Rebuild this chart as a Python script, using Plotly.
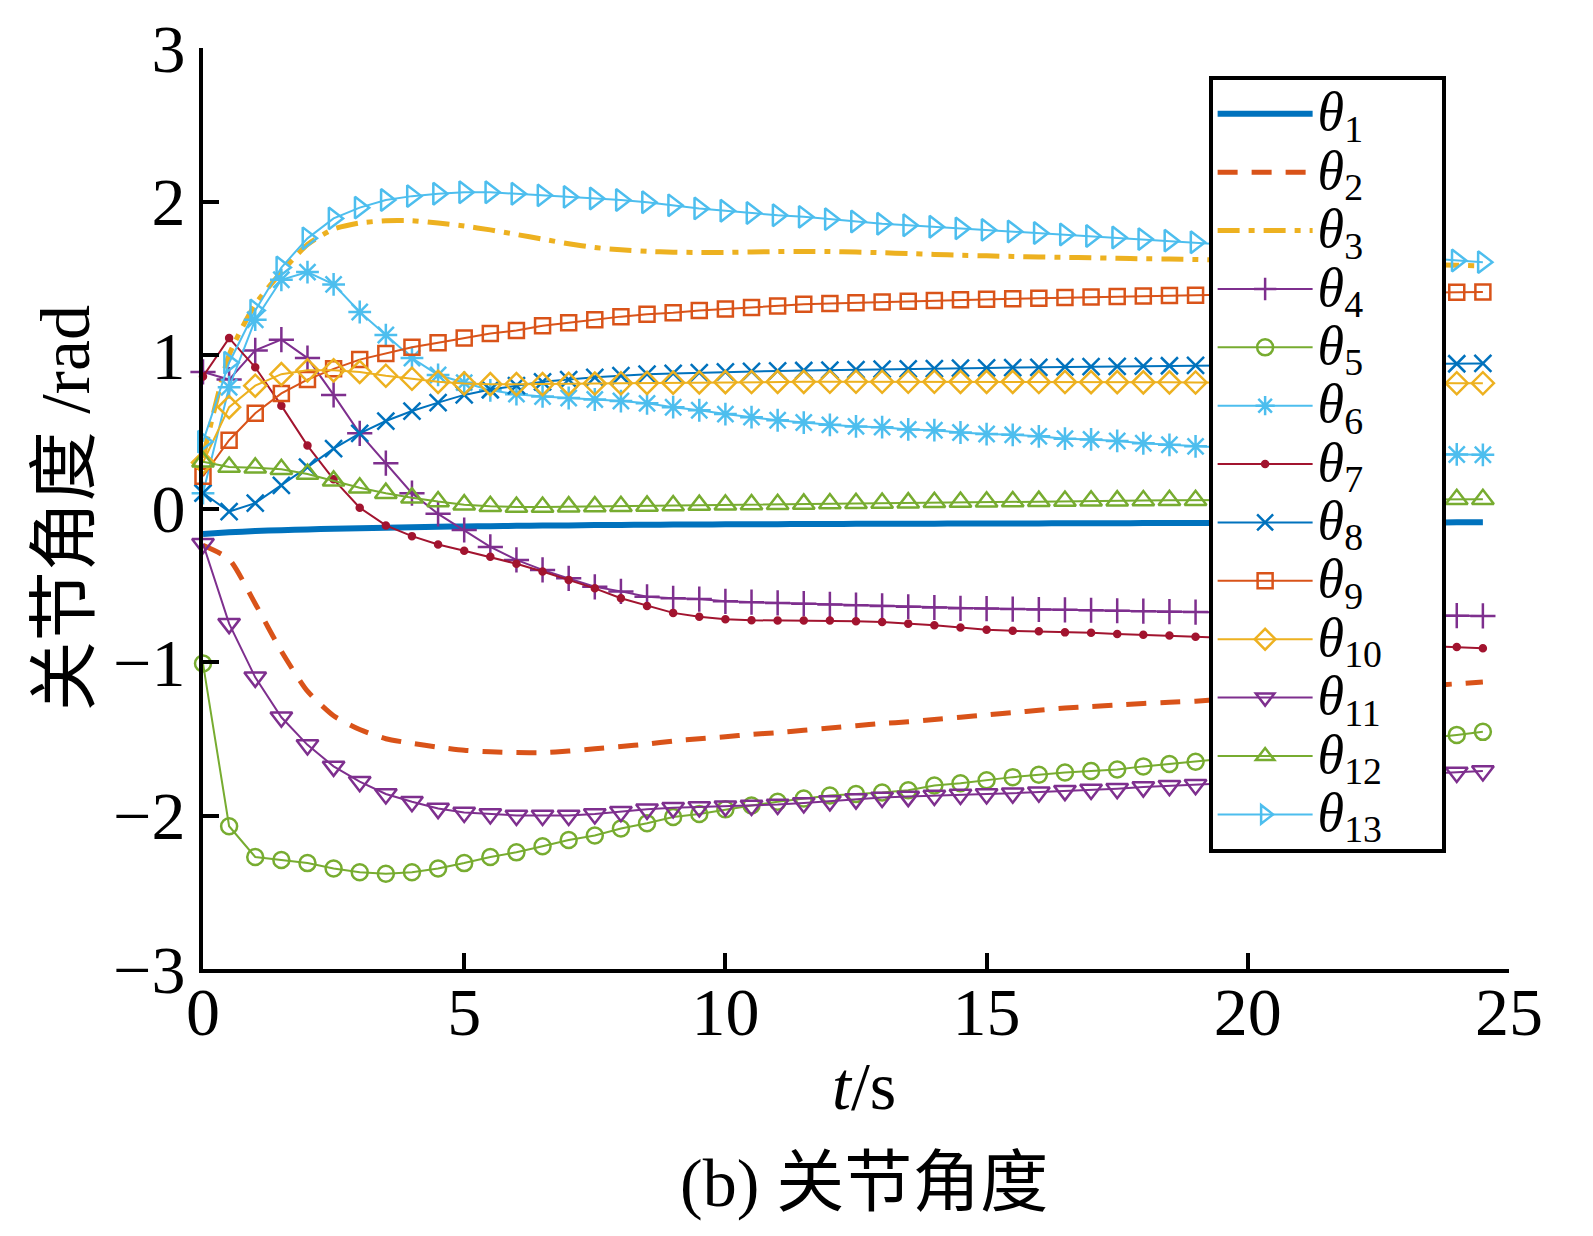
import plotly.graph_objects as go

# time grid (s), one sample every 0.5 s
t = [0, 0.5, 1, 1.5, 2, 2.5, 3, 3.5, 4, 4.5,
     5, 5.5, 6, 6.5, 7, 7.5, 8, 8.5, 9, 9.5,
     10, 10.5, 11, 11.5, 12, 12.5, 13, 13.5, 14, 14.5,
     15, 15.5, 16, 16.5, 17, 17.5, 18, 18.5, 19, 19.5,
     20, 20.5, 21, 21.5, 22, 22.5, 23, 23.5, 24, 24.5]

# joint angles (rad)
theta1 = [-0.166, -0.155, -0.147, -0.141, -0.136, -0.132, -0.128, -0.125, -0.122, -0.119,
          -0.117, -0.115, -0.113, -0.111, -0.110, -0.108, -0.107, -0.106, -0.105, -0.104,
          -0.103, -0.102, -0.102, -0.101, -0.101, -0.100, -0.100, -0.099, -0.099, -0.098,
          -0.098, -0.097, -0.097, -0.096, -0.096, -0.096, -0.095, -0.095, -0.094, -0.094,
          -0.094, -0.093, -0.093, -0.093, -0.092, -0.092, -0.091, -0.091, -0.090, -0.090]
theta2 = [-0.24, -0.33, -0.62, -0.93, -1.19, -1.35, -1.44, -1.50, -1.53, -1.555,
          -1.575, -1.585, -1.59, -1.59, -1.58, -1.565, -1.55, -1.535, -1.515, -1.50,
          -1.487, -1.472, -1.46, -1.445, -1.43, -1.415, -1.40, -1.39, -1.375, -1.36,
          -1.345, -1.33, -1.315, -1.30, -1.29, -1.28, -1.27, -1.262, -1.255, -1.243,
          -1.232, -1.22, -1.21, -1.198, -1.188, -1.176, -1.165, -1.153, -1.142, -1.13]
theta3 = [0.33, 1.00, 1.33, 1.54, 1.72, 1.82, 1.86, 1.875, 1.875, 1.86,
          1.84, 1.815, 1.785, 1.755, 1.725, 1.70, 1.685, 1.675, 1.67, 1.668,
          1.668, 1.671, 1.674, 1.675, 1.674, 1.671, 1.666, 1.661, 1.655, 1.65,
          1.646, 1.642, 1.639, 1.636, 1.633, 1.630, 1.627, 1.625, 1.622, 1.618,
          1.614, 1.611, 1.607, 1.603, 1.600, 1.596, 1.592, 1.589, 1.585, 1.58]
theta4 = [0.89, 0.84, 1.03, 1.10, 0.98, 0.74, 0.49, 0.295, 0.10, -0.035,
          -0.14, -0.25, -0.335, -0.40, -0.455, -0.51, -0.54, -0.575, -0.585, -0.59,
          -0.605, -0.61, -0.615, -0.62, -0.625, -0.63, -0.635, -0.64, -0.645, -0.65,
          -0.652, -0.655, -0.658, -0.66, -0.663, -0.666, -0.669, -0.672, -0.675, -0.678,
          -0.68, -0.683, -0.685, -0.688, -0.69, -0.692, -0.694, -0.696, -0.698, -0.70]
theta5 = [-1.01, -2.07, -2.27, -2.29, -2.31, -2.345, -2.37, -2.38, -2.37, -2.345,
          -2.31, -2.27, -2.24, -2.20, -2.16, -2.13, -2.085, -2.05, -2.01, -1.99,
          -1.96, -1.935, -1.91, -1.89, -1.87, -1.86, -1.85, -1.835, -1.805, -1.79,
          -1.77, -1.75, -1.735, -1.72, -1.71, -1.70, -1.68, -1.665, -1.65, -1.632,
          -1.615, -1.598, -1.58, -1.563, -1.545, -1.528, -1.51, -1.492, -1.475, -1.455]
theta6 = [0.10, 0.79, 1.23, 1.49, 1.54, 1.46, 1.28, 1.13, 0.98, 0.87,
          0.82, 0.77, 0.745, 0.73, 0.72, 0.71, 0.70, 0.685, 0.66, 0.64,
          0.615, 0.595, 0.575, 0.56, 0.545, 0.535, 0.53, 0.515, 0.51, 0.495,
          0.485, 0.48, 0.47, 0.455, 0.45, 0.44, 0.425, 0.415, 0.405, 0.397,
          0.39, 0.382, 0.375, 0.37, 0.365, 0.36, 0.357, 0.354, 0.352, 0.35]
theta7 = [0.86, 1.11, 0.92, 0.67, 0.41, 0.19, 0.005, -0.11, -0.18, -0.235,
          -0.275, -0.315, -0.36, -0.41, -0.465, -0.52, -0.585, -0.635, -0.68, -0.705,
          -0.722, -0.728, -0.73, -0.73, -0.73, -0.735, -0.74, -0.75, -0.76, -0.775,
          -0.79, -0.797, -0.80, -0.807, -0.81, -0.817, -0.822, -0.828, -0.835, -0.842,
          -0.849, -0.856, -0.862, -0.868, -0.875, -0.881, -0.888, -0.895, -0.902, -0.91]
theta8 = [0.10, -0.02, 0.035, 0.15, 0.27, 0.39, 0.49, 0.57, 0.635, 0.69,
          0.74, 0.775, 0.80, 0.825, 0.84, 0.855, 0.865, 0.875, 0.88, 0.885,
          0.89, 0.893, 0.896, 0.899, 0.902, 0.905, 0.908, 0.91, 0.912, 0.914,
          0.916, 0.918, 0.92, 0.922, 0.924, 0.926, 0.928, 0.93, 0.932, 0.934,
          0.935, 0.936, 0.937, 0.938, 0.939, 0.94, 0.941, 0.942, 0.943, 0.945]
theta9 = [0.21, 0.445, 0.62, 0.75, 0.84, 0.91, 0.97, 1.01, 1.05, 1.08,
          1.11, 1.14, 1.16, 1.19, 1.21, 1.23, 1.25, 1.265, 1.275, 1.29,
          1.30, 1.31, 1.32, 1.33, 1.335, 1.34, 1.345, 1.35, 1.355, 1.36,
          1.363, 1.366, 1.37, 1.374, 1.378, 1.381, 1.384, 1.387, 1.39, 1.392,
          1.394, 1.396, 1.398, 1.40, 1.402, 1.404, 1.406, 1.407, 1.409, 1.41]
theta10 = [0.30, 0.66, 0.80, 0.875, 0.90, 0.90, 0.89, 0.865, 0.845, 0.825,
           0.815, 0.81, 0.81, 0.81, 0.812, 0.814, 0.816, 0.818, 0.82, 0.822,
           0.823, 0.824, 0.825, 0.825, 0.826, 0.826, 0.826, 0.826, 0.826, 0.825,
           0.825, 0.825, 0.824, 0.824, 0.823, 0.823, 0.822, 0.822, 0.821, 0.821,
           0.82, 0.82, 0.819, 0.819, 0.818, 0.818, 0.817, 0.817, 0.816, 0.816]
theta11 = [-0.23, -0.75, -1.10, -1.36, -1.54, -1.68, -1.78, -1.86, -1.91, -1.955,
           -1.98, -1.99, -2.00, -2.00, -2.00, -1.99, -1.975, -1.96, -1.95, -1.945,
           -1.94, -1.935, -1.928, -1.918, -1.905, -1.893, -1.882, -1.877, -1.87, -1.863,
           -1.86, -1.855, -1.848, -1.838, -1.83, -1.826, -1.815, -1.806, -1.80, -1.792,
           -1.784, -1.776, -1.768, -1.76, -1.752, -1.744, -1.736, -1.728, -1.72, -1.71]
theta12 = [0.305, 0.27, 0.265, 0.255, 0.225, 0.18, 0.135, 0.10, 0.07, 0.045,
           0.025, 0.015, 0.01, 0.01, 0.012, 0.013, 0.015, 0.017, 0.02, 0.022,
           0.024, 0.026, 0.028, 0.03, 0.032, 0.034, 0.036, 0.038, 0.04, 0.042,
           0.044, 0.046, 0.048, 0.049, 0.05, 0.051, 0.052, 0.053, 0.054, 0.055,
           0.056, 0.056, 0.057, 0.057, 0.058, 0.058, 0.059, 0.059, 0.06, 0.06]
theta13 = [0.435, 0.95, 1.29, 1.57, 1.76, 1.89, 1.96, 2.01, 2.035, 2.05,
           2.06, 2.06, 2.05, 2.04, 2.03, 2.02, 2.01, 1.995, 1.975, 1.955,
           1.94, 1.925, 1.91, 1.9, 1.885, 1.87, 1.855, 1.845, 1.835, 1.825,
           1.815, 1.805, 1.795, 1.785, 1.775, 1.765, 1.755, 1.745, 1.735, 1.724,
           1.712, 1.70, 1.688, 1.676, 1.664, 1.652, 1.64, 1.628, 1.616, 1.605]

series = [theta1, theta2, theta3, theta4, theta5, theta6, theta7,
          theta8, theta9, theta10, theta11, theta12, theta13]
# bigger glyphs than the legend font so the rows stay tight, like the original
names = ['<span style="font-size:54px"><i>θ</i><sub>%d</sub>&nbsp;&nbsp;&nbsp;&nbsp;</span>' % (i + 1)
         for i in range(13)]

# MATLAB default colour order
blue, orange, yellow, purple = '#0072BD', '#D95319', '#EDB120', '#7E2F8E'
green, cyan, red = '#77AC30', '#4DBEEE', '#A2142F'

# (colour, line width, dash, marker symbol, marker size)
styles = [
    (blue, 6, 'solid', None, 0),
    (orange, 5, '20px,14px', None, 0),
    (yellow, 5, '22px,9px,6px,9px', None, 0),
    (purple, 2, 'solid', 'cross-thin-open', 18),
    (green, 2, 'solid', 'circle-open', 16),
    (cyan, 2, 'solid', 'asterisk-open', 19),
    (red, 2, 'solid', 'circle', 6),
    (blue, 2, 'solid', 'x-thin-open', 17),
    (orange, 2, 'solid', 'square-open', 15),
    (yellow, 2, 'solid', 'diamond-open', 17),
    (purple, 2, 'solid', 'triangle-down-open', 19),
    (green, 2, 'solid', 'triangle-up-open', 19),
    (cyan, 2, 'solid', 'triangle-right-open', 19),
]

serif = 'Liberation Serif, Times New Roman, Noto Sans CJK SC, serif'

fig = go.Figure()
for y, name, (col, lw, dash, sym, ms) in zip(series, names, styles):
    assert len(y) == len(t)
    if sym is None:
        fig.add_trace(go.Scatter(
            x=t, y=y, name=name, mode='lines',
            line=dict(color=col, width=lw, dash=dash, shape='spline', smoothing=0.6),
            cliponaxis=False))
    else:
        fig.add_trace(go.Scatter(
            x=t, y=y, name=name, mode='lines+markers',
            line=dict(color=col, width=lw, dash=dash),
            marker=dict(symbol=sym, size=ms, color=col,
                        line=dict(color=col, width=2.5)),
            cliponaxis=False))

axis_style = dict(
    showline=True, linecolor='black', linewidth=4, mirror=False,
    ticks='inside', ticklen=16, tickwidth=4, tickcolor='black',
    showgrid=False, zeroline=False,
    tickfont=dict(family=serif, size=68, color='black'),
)

fig.update_layout(
    width=1593, height=1236,
    margin=dict(l=203, r=84, t=48, b=267),
    paper_bgcolor='white', plot_bgcolor='white',
    font=dict(family=serif, color='black'),
    xaxis=dict(range=[0, 25], tickvals=[0, 5, 10, 15, 20, 25],
               ticklabelstandoff=-20, **axis_style),
    yaxis=dict(range=[-3, 3], tickvals=[-3, -2, -1, 0, 1, 2, 3], **axis_style),
    legend=dict(
        x=0.77, y=0.97, xanchor='left', yanchor='top',
        bgcolor='white', bordercolor='black', borderwidth=4,
        font=dict(family=serif, size=42.6, color='black'),
        itemwidth=95,
    ),
    annotations=[
        dict(text='<i>t</i>/s', xref='paper', yref='paper', x=0.506, y=-0.127,
             xanchor='center', yanchor='middle', showarrow=False,
             font=dict(family=serif, size=68)),
        dict(text='(b) 关节角度', xref='paper', yref='paper', x=0.506, y=-0.232,
             xanchor='center', yanchor='middle', showarrow=False,
             font=dict(family=serif, size=68)),
        dict(text='关节角度 /rad', xref='paper', yref='paper', x=-0.105, y=0.5,
             xanchor='center', yanchor='middle', textangle=-90, showarrow=False,
             font=dict(family=serif, size=70)),
    ],
)

fig.write_html("out.html", config={'displayModeBar': False},
               post_script="document.body.style.margin='0';")
